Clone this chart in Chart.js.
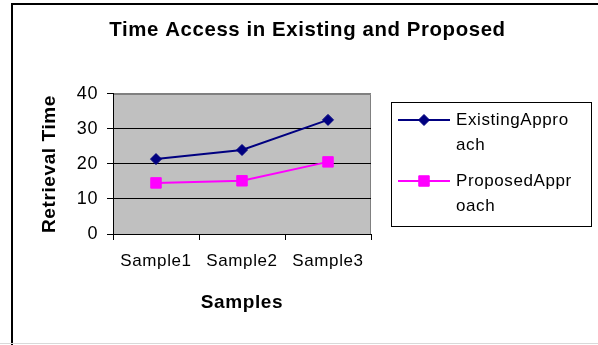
<!DOCTYPE html>
<html>
<head>
<meta charset="utf-8">
<title>Time Access in Existing and Proposed</title>
<script src="https://cdn.jsdelivr.net/npm/chart.js@4/dist/chart.umd.min.js"></script>
<style>
  html, body { margin: 0; padding: 0; background: #ffffff; }
  #chart { display: block; }
</style>
</head>
<body>
<canvas id="chart" width="598" height="345"></canvas>
<script>
// Retrieval time per sample for both approaches
const categories = ['Sample1', 'Sample2', 'Sample3'];
const existingApproach = [21.4, 24, 32.6];
const proposedApproach = [14.6, 15.2, 20.6];
const seriesNames = ['ExistingApproach', 'ProposedApproach'];
const yTicks = [0, 10, 20, 30, 40];

const FONT = '"Liberation Sans", Arial, sans-serif';
const SPACING = '0.6px';

// Frame, grey plot background and letter spacing for all text
const framePlugin = {
  id: 'frame',
  afterLayout(chart) {
    // centre the title over the whole drawing, not just the plot column
    const t = chart.titleBlock;
    if (t) { t.left = 17; t.right = chart.width; t.width = t.right - t.left; }
  },
  beforeDraw(chart) {
    const ctx = chart.ctx;
    const a = chart.chartArea;
    ctx.letterSpacing = SPACING;
    ctx.save();
    ctx.fillStyle = '#ffffff';
    ctx.fillRect(0, 0, chart.width, chart.height);
    // outer border
    ctx.strokeStyle = '#000000';
    ctx.lineWidth = 2;
    ctx.beginPath();
    ctx.moveTo(12, chart.height);
    ctx.lineTo(12, 4);
    ctx.lineTo(chart.width, 4);
    ctx.stroke();
    ctx.strokeStyle = '#d9d9d9';
    ctx.lineWidth = 1;
    ctx.beginPath();
    ctx.moveTo(0, 343.5);
    ctx.lineTo(chart.width, 343.5);
    ctx.stroke();
    // plot area
    ctx.fillStyle = '#c0c0c0';
    ctx.fillRect(a.left, a.top, a.right - a.left, a.bottom - a.top);
    ctx.strokeStyle = '#808080';
    ctx.beginPath();
    ctx.moveTo(Math.round(a.left) + 0.5, Math.round(a.top) + 0.5);
    ctx.lineTo(Math.round(a.right) - 0.5, Math.round(a.top) + 0.5);
    ctx.lineTo(Math.round(a.right) - 0.5, Math.round(a.bottom));
    ctx.stroke();
    ctx.restore();
  }
};

// Boxed legend on the right with wrapped series names
const boxLegend = {
  id: 'boxLegend',
  afterDraw(chart) {
    const ctx = chart.ctx;
    const box = { x: 391.5, y: 102.5, w: 200, h: 124 };
    ctx.save();
    ctx.letterSpacing = SPACING;
    ctx.fillStyle = '#ffffff';
    ctx.fillRect(box.x, box.y, box.w, box.h);
    ctx.strokeStyle = '#000000';
    ctx.lineWidth = 1;
    ctx.strokeRect(box.x, box.y, box.w, box.h);
    ctx.font = '17px ' + FONT;
    ctx.textBaseline = 'middle';
    ctx.textAlign = 'left';
    const maxW = 120;
    chart.data.datasets.forEach((ds, i) => {
      const y = 120 + i * 61;
      ctx.strokeStyle = ds.borderColor;
      ctx.lineWidth = ds.borderWidth;
      ctx.beginPath();
      ctx.moveTo(398, y);
      ctx.lineTo(450, y);
      ctx.stroke();
      ctx.fillStyle = ds.pointBackgroundColor;
      ctx.strokeStyle = ds.pointBorderColor;
      ctx.lineWidth = 1;
      Chart.helpers.drawPoint(ctx, {
        pointStyle: ds.pointStyle, radius: ds.pointRadius, rotation: 0, borderWidth: 1
      }, 424, y);
      // character wrap of the series name
      const lines = [];
      let cur = '';
      for (const ch of ds.label) {
        if (cur && ctx.measureText(cur + ch).width > maxW) { lines.push(cur); cur = ch; }
        else { cur += ch; }
      }
      if (cur) lines.push(cur);
      ctx.fillStyle = '#000000';
      lines.forEach((ln, j) => ctx.fillText(ln, 456, y + j * 25));
    });
    ctx.restore();
  }
};

new Chart(document.getElementById('chart'), {
  type: 'line',
  data: {
    labels: categories,
    datasets: [
      {
        label: seriesNames[0],
        data: existingApproach,
        borderColor: '#000080',
        backgroundColor: '#000080',
        pointBackgroundColor: '#000080',
        pointBorderColor: '#000080',
        borderWidth: 2,
        pointStyle: 'rectRot',
        pointRadius: 5.5,
        pointBorderWidth: 1,
        tension: 0
      },
      {
        label: seriesNames[1],
        data: proposedApproach,
        borderColor: '#ff00ff',
        backgroundColor: '#ff00ff',
        pointBackgroundColor: '#ff00ff',
        pointBorderColor: '#ff00ff',
        borderWidth: 2,
        pointStyle: 'rect',
        pointRadius: 7.4,
        pointBorderWidth: 1,
        tension: 0
      }
    ]
  },
  options: {
    responsive: false,
    animation: false,
    devicePixelRatio: 1,
    layout: { padding: { left: 0, right: 227, top: 0, bottom: 0 } },
    plugins: {
      legend: { display: false },
      tooltip: { enabled: false },
      title: {
        display: true,
        text: 'Time Access in Existing and Proposed',
        color: '#000000',
        font: { family: FONT, size: 20.4, weight: 'bold', lineHeight: 1.2 },
        padding: { top: 17.8, bottom: 51.7 }
      }
    },
    scales: {
      x: {
        offset: true,
        afterFit(s) { s.height = 111; },
        grid: {
          offset: true,
          drawOnChartArea: false,
          tickLength: 6,
          tickColor: '#000000'
        },
        border: { color: '#000000', width: 1 },
        ticks: {
          color: '#000000',
          padding: 11,
          maxRotation: 0,
          autoSkip: false,
          font: { family: FONT, size: 17 }
        },
        title: {
          display: true,
          text: 'Samples',
          color: '#000000',
          font: { family: FONT, size: 19, weight: 'bold', lineHeight: 1.2 },
          padding: { top: 0, bottom: 30.6 }
        }
      },
      y: {
        min: 0,
        max: 40,
        afterFit(s) { s.width = 113; },
        afterBuildTicks(s) { s.ticks = yTicks.map(v => ({ value: v })); },
        grid: {
          color: (c) => (c.tick && c.tick.value === 40 ? '#808080' : '#000000'),
          tickColor: '#000000',
          tickLength: 6,
          lineWidth: 1
        },
        border: { color: '#000000', width: 1 },
        ticks: {
          color: '#000000',
          padding: 9,
          font: { family: FONT, size: 18 }
        },
        title: {
          display: true,
          text: 'Retrieval Time',
          color: '#000000',
          font: { family: FONT, size: 19, weight: 'bold', lineHeight: 1.2 },
          padding: { top: 38.6, bottom: 0 }
        }
      }
    }
  },
  plugins: [framePlugin, boxLegend]
});
</script>
</body>
</html>
